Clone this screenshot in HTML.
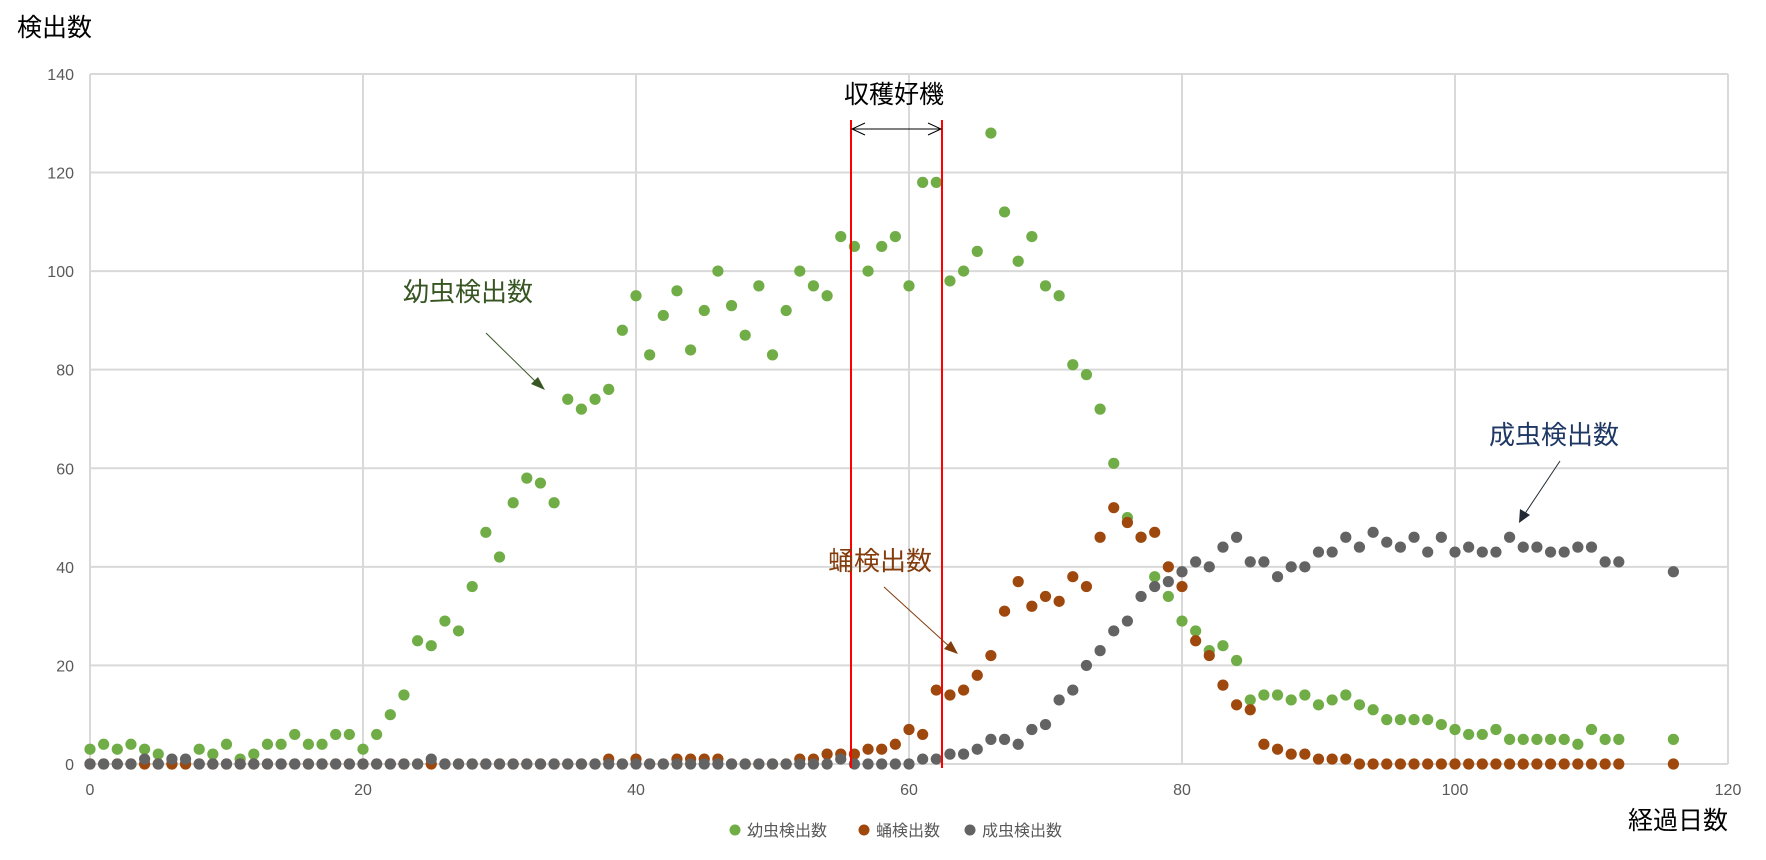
<!DOCTYPE html>
<html><head><meta charset="utf-8"><style>
html,body{margin:0;padding:0;background:#fff;}
svg{display:block;}
text{font-family:"Liberation Sans","Noto Sans CJK JP",sans-serif;}
</style></head><body>
<svg id="s" width="1766" height="860" xmlns="http://www.w3.org/2000/svg">
<g id="grid" stroke="#d9d9d9" stroke-width="2"></g>
<g id="ticks" font-size="16" fill="#595959"></g>
<g id="pts"></g>
<line x1="851" y1="120" x2="851" y2="768" stroke="#ff0000" stroke-width="2"/>
<line x1="942" y1="120" x2="942" y2="768" stroke="#ff0000" stroke-width="2"/>
<line x1="852" y1="129" x2="941" y2="129" stroke="#000" stroke-width="1"/>
<polyline points="865,123 852,129 865,135" fill="none" stroke="#000" stroke-width="1"/>
<polyline points="928,123 941,129 928,135" fill="none" stroke="#000" stroke-width="1"/>
<text x="894" y="103" font-size="25" text-anchor="middle" fill="#000">収穫好機</text>
<text x="17" y="36" font-size="25" fill="#000">検出数</text>
<text x="1728" y="829" font-size="25" text-anchor="end" fill="#000">経過日数</text>
<text x="403" y="301" font-size="26" fill="#375623">幼虫検出数</text>
<line x1="486" y1="333" x2="538" y2="384" stroke="#375623" stroke-width="1"/>
<polygon points="545,390 531,384 538,377" fill="#375623"/>
<text x="828" y="570" font-size="26" fill="#843C0C">蛹検出数</text>
<line x1="884" y1="587" x2="951" y2="648" stroke="#843C0C" stroke-width="1"/>
<polygon points="958,654 944,649 951,641" fill="#843C0C"/>
<text x="1489" y="444" font-size="26" fill="#1F3864">成虫検出数</text>
<line x1="1560" y1="461" x2="1524" y2="515" stroke="#222a35" stroke-width="1"/>
<polygon points="1519,523 1520,509 1530,515" fill="#222a35"/>
<circle cx="735" cy="830" r="5.5" fill="#70AD47"/>
<text x="747" y="836" font-size="16" fill="#595959">幼虫検出数</text>
<circle cx="864" cy="830" r="5.5" fill="#9E480E"/>
<text x="876" y="836" font-size="16" fill="#595959">蛹検出数</text>
<circle cx="970" cy="830" r="5.5" fill="#636363"/>
<text x="982" y="836" font-size="16" fill="#595959">成虫検出数</text>
</svg>
<script>
var NS="http://www.w3.org/2000/svg";
function X(d){return 90+d*13.65;} function Y(v){return 764-v*4.929;}
var g=document.getElementById('grid'),t=document.getElementById('ticks'),p=document.getElementById('pts');
function el(par,n,a,txt){var e=document.createElementNS(NS,n);for(var k in a)e.setAttribute(k,a[k]);if(txt!==undefined)e.textContent=txt;par.appendChild(e);return e;}
for(var v=0;v<=140;v+=20){el(g,'line',{x1:90,x2:1728,y1:Y(v),y2:Y(v)});el(t,'text',{x:74,y:Y(v)+6,'text-anchor':'end'},String(v));}
for(var d=0;d<=120;d+=20){el(g,'line',{x1:X(d),x2:X(d),y1:74,y2:764});el(t,'text',{x:X(d),y:795,'text-anchor':'middle'},String(d));}
var green={0:3,1:4,2:3,3:4,4:3,5:2,6:0,7:0,8:3,9:2,10:4,11:1,12:2,13:4,14:4,15:6,16:4,17:4,18:6,19:6,20:3,21:6,22:10,23:14,24:25,25:24,26:29,27:27,28:36,29:47,30:42,31:53,32:58,33:57,34:53,35:74,36:72,37:74,38:76,39:88,40:95,41:83,42:91,43:96,44:84,45:92,46:100,47:93,48:87,49:97,50:83,51:92,52:100,53:97,54:95,55:107,56:105,57:100,58:105,59:107,60:97,61:118,62:118,63:98,64:100,65:104,66:128,67:112,68:102,69:107,70:97,71:95,72:81,73:79,74:72,75:61,76:50,77:46,78:38,79:34,80:29,81:27,82:23,83:24,84:21,85:13,86:14,87:14,88:13,89:14,90:12,91:13,92:14,93:12,94:11,95:9,96:9,97:9,98:9,99:8,100:7,101:6,102:6,103:7,104:5,105:5,106:5,107:5,108:5,109:4,110:7,111:5,112:5,116:5};
var orange={38:1,40:1,43:1,44:1,45:1,46:1,52:1,53:1,54:2,55:2,56:2,57:3,58:3,59:4,60:7,61:6,62:15,63:14,64:15,65:18,66:22,67:31,68:37,69:32,70:34,71:33,72:38,73:36,74:46,75:52,76:49,77:46,78:47,79:40,80:36,81:25,82:22,83:16,84:12,85:11,86:4,87:3,88:2,89:2,90:1,91:1,92:1};
var gray={4:1,6:1,7:1,25:1,55:1,61:1,62:1,63:2,64:2,65:3,66:5,67:5,68:4,69:7,70:8,71:13,72:15,73:20,74:23,75:27,76:29,77:34,78:36,79:37,80:39,81:41,82:40,83:44,84:46,85:41,86:41,87:38,88:40,89:40,90:43,91:43,92:46,93:44,94:47,95:45,96:44,97:46,98:43,99:46,100:43,101:44,102:43,103:43,104:46,105:44,106:44,107:43,108:43,109:44,110:44,111:41,112:41,116:39};
var days=[];for(var i=0;i<=112;i++)days.push(i);days.push(116);
function draw(obj,col){days.forEach(function(d){var v=obj[d]||0;el(p,'circle',{cx:X(d),cy:Y(v),r:5.6,fill:col});});}
draw(green,'#70AD47');draw(orange,'#9E480E');draw(gray,'#636363');
</script>
</body></html>
